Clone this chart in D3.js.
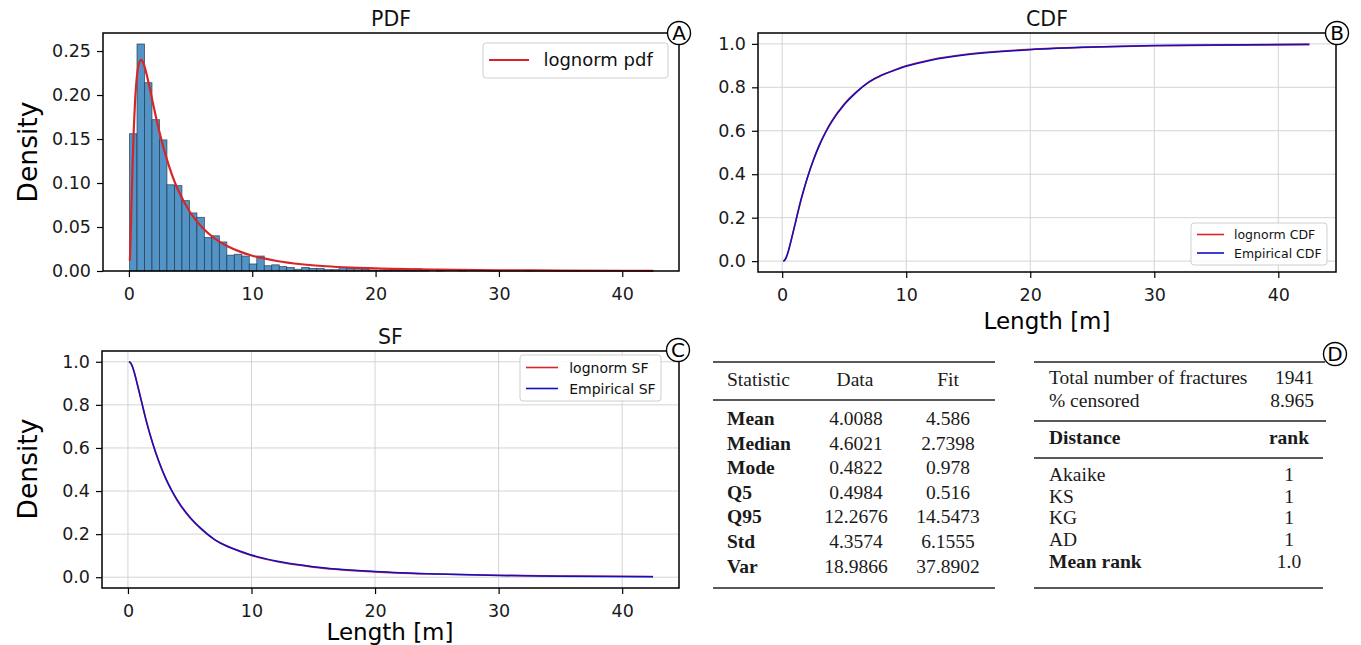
<!DOCTYPE html>
<html><head><meta charset="utf-8">
<script src="https://cdn.jsdelivr.net/npm/d3@7"></script>
<style>body{margin:0;background:#fff} svg{display:block}</style>
</head><body><svg id="c" width="1361" height="645"></svg>
<script>
// ---------------- data ----------------
const histStart = 0.05, histBinWidth = 0.607;
const histDensity = [0.156,0.258,0.214,0.172,0.149,0.098,0.097,0.080,0.066,0.061,
  0.038,0.040,0.033,0.018,0.019,0.017,0.008,0.017,0.006,0.007,
  0.005,0.004,0.002,0.004,0.003,0.003,0.0015,0.0015,0.004,0.003,
  0.003,0.002,0.001,0.0005,0.001,0.0005,0.0025,0.0005,0.0025,0.0005,
  0,0.0005,0,0,0.0005,0,0,0,0.0005,0,
  0,0,0,0.0005,0,0,0,0,0,0.0005,
  0,0,0,0,0,0,0,0,0,0.0005];
const pdfX = [0.08,0.15,0.2,0.3,0.4,0.5,0.6,0.7,0.8,1.0,1.2,1.5,2,2.5,3,3.5,4,5,6,7,8,9,10,12,14,16,18,20,25,30,35,40,42.5];
const pdfLognorm = [0.0115,0.0436,0.0707,0.1219,0.1629,0.1929,0.2138,0.2273,0.2354,0.2400,0.2353,0.2197,0.1873,0.1566,0.1305,0.1091,0.0917,0.0659,0.0486,0.0366,0.0281,0.0220,0.0174,0.0114,0.0077,0.0054,0.0039,0.0029,0.0015,0.0008,0.0005,0.0003,0.00025];
const cdfX = [0.08,0.2,0.3,0.5,0.7,1,1.5,2,2.5,3,3.5,4,5,6,7,8,9,10,12,15,20,25,30,35,42.5];
const cdfLognorm = [0.0003,0.005,0.015,0.047,0.089,0.160,0.276,0.378,0.464,0.536,0.595,0.645,0.723,0.780,0.824,0.854,0.879,0.899,0.927,0.953,0.975,0.985,0.991,0.994,0.9965];
const cdfEmpirical = [0,0.004,0.013,0.046,0.092,0.162,0.280,0.378,0.462,0.533,0.592,0.642,0.720,0.778,0.825,0.856,0.877,0.897,0.925,0.951,0.973,0.985,0.992,0.995,0.998];
const sfLognorm = [0.9997,0.995,0.985,0.953,0.911,0.840,0.724,0.622,0.536,0.464,0.405,0.355,0.277,0.220,0.176,0.146,0.121,0.101,0.073,0.047,0.025,0.015,0.009,0.006,0.0035];
const sfEmpirical = [1,0.996,0.987,0.954,0.908,0.838,0.720,0.622,0.538,0.467,0.408,0.358,0.280,0.222,0.175,0.144,0.123,0.103,0.075,0.049,0.027,0.015,0.008,0.005,0.002];
const xTickVals = [0,10,20,30,40];
const pdfTickVals = [0,0.05,0.10,0.15,0.20,0.25];
const unitTickVals = [0,0.2,0.4,0.6,0.8,1.0];
const statNames = ["Mean","Median","Mode","Q5","Q95","Std","Var"];
const statData = ["4.0088","4.6021","0.4822","0.4984","12.2676","4.3574","18.9866"];
const statFit = ["4.586","2.7398","0.978","0.516","14.5473","6.1555","37.8902"];
const summaryLabels = ["Total number of fractures","% censored"];
const summaryValues = ["1941","8.965"];
const distanceNames = ["Akaike","KS","KG","AD","Mean rank"];
const distanceRanks = ["1","1","1","1","1.0"];

// ---------------- drawing ----------------
const svg = d3.select("#c");
const SANS = "DejaVu Sans, sans-serif";
const SERIF = "Liberation Serif, Times New Roman, serif";
const RED = "#d62728", BLUE = "#1010c8", HIST = "#5294c6";

function panel(o){
  const g = svg.append("g");
  const x = d3.scaleLinear().domain(o.xd).range([o.l, o.r]);
  const y = d3.scaleLinear().domain(o.yd).range([o.b, o.t]);
  if (o.grid){
    g.append("g").selectAll("line.gx").data(xTickVals).join("line")
      .attr("x1", d=>x(d)).attr("x2", d=>x(d)).attr("y1", o.t).attr("y2", o.b)
      .attr("stroke", "#d4d4d4").attr("stroke-width", 1);
    g.append("g").selectAll("line.gy").data(o.yTicks).join("line")
      .attr("y1", d=>y(d)).attr("y2", d=>y(d)).attr("x1", o.l).attr("x2", o.r)
      .attr("stroke", "#d4d4d4").attr("stroke-width", 1);
  }
  const ax = g.append("g").attr("transform", `translate(0,${o.b})`)
    .call(d3.axisBottom(x).tickValues(xTickVals).tickSize(6).tickPadding(11).tickFormat(d3.format("d")));
  const ay = g.append("g").attr("transform", `translate(${o.l},0)`)
    .call(d3.axisLeft(y).tickValues(o.yTicks).tickSize(6).tickPadding(6).tickFormat(d3.format(o.yFmt)));
  [ax, ay].forEach(a => {
    a.select(".domain").remove();
    a.selectAll("line").attr("stroke", "#000").attr("stroke-width", 1.2);
    a.selectAll("text").attr("font-family", SANS).attr("font-size", 17.5).attr("fill", "#1a1a1a");
  });
  const plot = g.append("g");
  g.append("rect").attr("x", o.l).attr("y", o.t).attr("width", o.r - o.l).attr("height", o.b - o.t)
    .attr("fill", "none").attr("stroke", "#000").attr("stroke-width", 1.5);
  g.append("text").attr("x", (o.l + o.r) / 2).attr("y", o.t - 7).attr("text-anchor", "middle")
    .attr("font-family", SANS).attr("font-size", 20.5).attr("fill", "#111").text(o.title);
  return {g, plot, x, y};
}

function badge(cx, cy, letter){
  svg.append("circle").attr("cx", cx).attr("cy", cy).attr("r", 11.5)
    .attr("fill", "#fff").attr("stroke", "#000").attr("stroke-width", 1.4);
  svg.append("text").attr("x", cx).attr("y", cy + 7).attr("text-anchor", "middle")
    .attr("font-family", SANS).attr("font-size", 20).attr("fill", "#000").text(letter);
}

function legend(x0, y0, w, h, items, fs, lineLen, rowGap, firstY){
  const g = svg.append("g");
  g.append("rect").attr("x", x0).attr("y", y0).attr("width", w).attr("height", h).attr("rx", 3)
    .attr("fill", "#fff").attr("fill-opacity", 0.85).attr("stroke", "#cfcfcf").attr("stroke-width", 1);
  items.forEach((it, i) => {
    const yy = y0 + firstY + i * rowGap;
    g.append("line").attr("x1", x0 + 6).attr("x2", x0 + 6 + lineLen).attr("y1", yy).attr("y2", yy)
      .attr("stroke", it.c).attr("stroke-width", it.w);
    g.append("text").attr("x", x0 + 6 + lineLen + fs * 0.8).attr("y", yy + fs * 0.36)
      .attr("font-family", SANS).attr("font-size", fs).attr("fill", "#111").text(it.t);
  });
}

// Panel A: PDF
const A = panel({l:103, r:679, t:33, b:271, xd:[-2.1, 44.6], yd:[0, 0.2705],
  yTicks: pdfTickVals, yFmt: ".2f", title: "PDF", grid:false});
A.plot.selectAll("rect").data(histDensity).join("rect")
  .attr("x", (d,i) => A.x(histStart + i * histBinWidth))
  .attr("width", (d,i) => A.x(histStart + (i+1) * histBinWidth) - A.x(histStart + i * histBinWidth))
  .attr("y", d => A.y(d)).attr("height", d => A.y(0) - A.y(d))
  .attr("fill", HIST).attr("stroke", "#1e3349").attr("stroke-width", 0.8).attr("stroke-opacity", 0.8);
const pdfLine = d3.line().x((d,i) => A.x(pdfX[i])).y(d => A.y(d)).curve(d3.curveMonotoneX);
A.plot.append("path").datum(pdfLognorm).attr("d", pdfLine)
  .attr("fill", "none").attr("stroke", RED).attr("stroke-width", 2.2);
svg.append("text").attr("transform", "translate(37,152) rotate(-90)").attr("text-anchor", "middle")
  .attr("font-family", SANS).attr("font-size", 26.5).attr("fill", "#000").text("Density");
legend(483, 43, 185, 35, [{c:RED, w:2.2, t:"lognorm pdf"}], 18, 40, 0, 17);
badge(679, 33, "A");

// Panel B: CDF
const B = panel({l:758, r:1336, t:33, b:272, xd:[-1.95, 44.65], yd:[-0.05, 1.05],
  yTicks: unitTickVals, yFmt: ".1f", title: "CDF", grid:true});
const cdfLine = d3.line().x((d,i) => B.x(cdfX[i])).y(d => B.y(d)).curve(d3.curveMonotoneX);
B.plot.append("path").datum(cdfLognorm).attr("d", cdfLine).attr("fill", "none").attr("stroke", RED).attr("stroke-width", 1.6);
B.plot.append("path").datum(cdfEmpirical).attr("d", cdfLine).attr("fill", "none").attr("stroke", BLUE).attr("stroke-width", 1.5);
svg.append("text").attr("x", 1047).attr("y", 329).attr("text-anchor", "middle")
  .attr("font-family", SANS).attr("font-size", 23).attr("fill", "#000").text("Length [m]");
legend(1191, 223, 136, 42, [{c:RED, w:1.6, t:"lognorm CDF"}, {c:BLUE, w:1.6, t:"Empirical CDF"}], 12.5, 27, 18.5, 11.5);
badge(1337, 33, "B");

// Panel C: SF
const C = panel({l:102, r:679, t:351, b:588, xd:[-2.1, 44.6], yd:[-0.05, 1.05],
  yTicks: unitTickVals, yFmt: ".1f", title: "SF", grid:true});
const sfLine = d3.line().x((d,i) => C.x(cdfX[i])).y(d => C.y(d)).curve(d3.curveMonotoneX);
C.plot.append("path").datum(sfLognorm).attr("d", sfLine).attr("fill", "none").attr("stroke", RED).attr("stroke-width", 1.6);
C.plot.append("path").datum(sfEmpirical).attr("d", sfLine).attr("fill", "none").attr("stroke", BLUE).attr("stroke-width", 1.5);
svg.append("text").attr("transform", "translate(37,469) rotate(-90)").attr("text-anchor", "middle")
  .attr("font-family", SANS).attr("font-size", 26.5).attr("fill", "#000").text("Density");
svg.append("text").attr("x", 390).attr("y", 640).attr("text-anchor", "middle")
  .attr("font-family", SANS).attr("font-size", 23).attr("fill", "#000").text("Length [m]");
legend(520, 355, 141, 46, [{c:RED, w:1.6, t:"lognorm SF"}, {c:BLUE, w:1.6, t:"Empirical SF"}], 14, 32, 21, 12.5);
badge(678, 350, "C");

// Table 1: statistics
const T1 = svg.append("g").attr("font-family", SERIF).attr("font-size", 19.5).attr("fill", "#1a1a1a");
function rule(g, x1, x2, y){ g.append("line").attr("x1", x1).attr("x2", x2).attr("y1", y).attr("y2", y).attr("stroke", "#222").attr("stroke-width", 1.3); }
rule(T1, 713, 995, 362);
rule(T1, 713, 995, 400);
rule(T1, 713, 995, 588);
T1.append("text").attr("x", 727).attr("y", 386).text("Statistic");
T1.append("text").attr("x", 855).attr("y", 386).attr("text-anchor", "middle").text("Data");
T1.append("text").attr("x", 948).attr("y", 386).attr("text-anchor", "middle").text("Fit");
statNames.forEach((n, i) => {
  const yy = 425 + i * 24.6;
  T1.append("text").attr("x", 727).attr("y", yy).attr("font-weight", "bold").text(n);
  T1.append("text").attr("x", 856).attr("y", yy).attr("text-anchor", "middle").text(statData[i]);
  T1.append("text").attr("x", 948).attr("y", yy).attr("text-anchor", "middle").text(statFit[i]);
});

// Table 2: goodness of fit
const T2 = svg.append("g").attr("font-family", SERIF).attr("font-size", 19.5).attr("fill", "#1a1a1a");
rule(T2, 1034, 1325, 362);
rule(T2, 1034, 1326, 421);
rule(T2, 1034, 1323, 458);
rule(T2, 1034, 1323, 588);
summaryLabels.forEach((s, i) => {
  const yy = 384 + i * 23.4;
  T2.append("text").attr("x", 1049).attr("y", yy).text(s);
  T2.append("text").attr("x", 1314).attr("y", yy).attr("text-anchor", "end").text(summaryValues[i]);
});
T2.append("text").attr("x", 1049).attr("y", 444).attr("font-weight", "bold").text("Distance");
T2.append("text").attr("x", 1289).attr("y", 444).attr("text-anchor", "middle").attr("font-weight", "bold").text("rank");
distanceNames.forEach((s, i) => {
  const yy = 481 + i * 21.7;
  const last = i === distanceNames.length - 1;
  T2.append("text").attr("x", 1049).attr("y", yy).attr("font-weight", last ? "bold" : "normal").text(s);
  T2.append("text").attr("x", 1289).attr("y", yy).attr("text-anchor", "middle").text(distanceRanks[i]);
});
badge(1335, 354, "D");
</script>
</body></html>
